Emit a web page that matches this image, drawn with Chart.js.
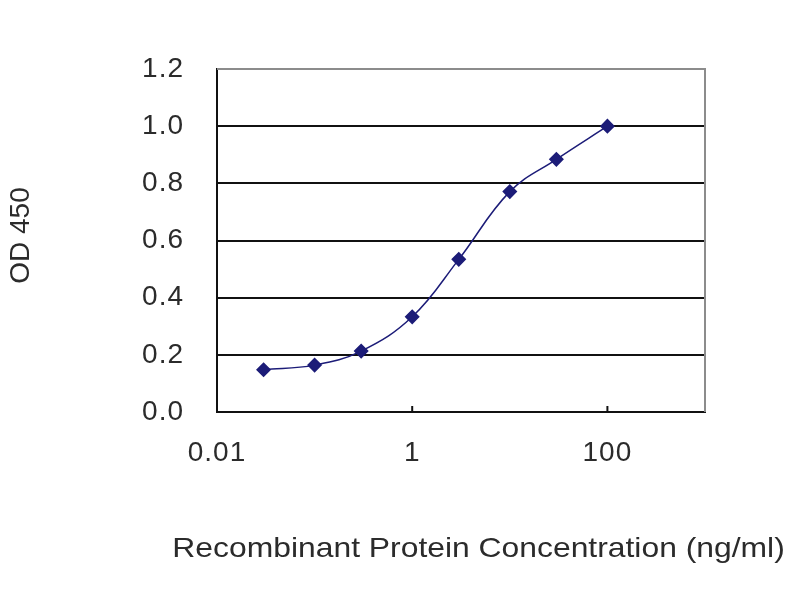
<!DOCTYPE html>
<html>
<head>
<meta charset="utf-8">
<script src="https://cdn.jsdelivr.net/npm/chart.js@4"></script>
<style>
  html, body { margin: 0; padding: 0; background: #ffffff; }
  #wrap { width: 800px; height: 600px; }
</style>
</head>
<body>
<div id="wrap"><canvas id="c" width="800" height="600"></canvas></div>
<script>
// ---- data ----
const concentrations = [0.03, 0.1, 0.3, 1, 3, 10, 30, 100];
const od450 = [0.148, 0.164, 0.213, 0.333, 0.534, 0.771, 0.884, 1.0];
const xTickValues = [0.01, 1, 100];
const xTickLabels = ['0.01', '1', '100'];
const yTickValues = [0, 0.2, 0.4, 0.6, 0.8, 1.0, 1.2];
const xTitle = 'Recombinant Protein Concentration (ng/ml)';
const yTitle = 'OD 450';

const points = concentrations.map((c, i) => ({ x: c, y: od450[i] }));
const textColor = '#2b2b2b';
const fontFamily = '"Liberation Sans", Arial, sans-serif';

const frame = {
  id: 'frame',
  beforeDraw(chart) {
    chart.ctx.letterSpacing = '1px';
  },
  beforeDatasetsDraw(chart) {
    const { ctx, chartArea: a, scales } = chart;
    ctx.letterSpacing = '0px';
    ctx.save();
    ctx.strokeStyle = '#8c8c8c';
    ctx.lineWidth = 2;
    ctx.beginPath();
    ctx.moveTo(a.left, a.top);
    ctx.lineTo(a.right, a.top);
    ctx.lineTo(a.right, a.bottom);
    ctx.stroke();
    // inner tick marks on x axis
    ctx.strokeStyle = '#111';
    ctx.lineWidth = 2;
    xTickValues.forEach(v => {
      const px = scales.x.getPixelForValue(v);
      ctx.beginPath();
      ctx.moveTo(px, a.bottom);
      ctx.lineTo(px, a.bottom - 6);
      ctx.stroke();
    });
    ctx.restore();
  },
  afterDraw(chart) {
    const { ctx, chartArea: a } = chart;
    ctx.save();
    ctx.fillStyle = textColor;
    ctx.font = '28px ' + fontFamily;
    ctx.letterSpacing = '0px';
    // x axis title, horizontally widened like the reference
    ctx.textAlign = 'center';
    ctx.textBaseline = 'alphabetic';
    const w = ctx.measureText(xTitle).width;
    const targetW = (a.right - a.left) * 1.255;
    const cx = a.left + (a.right - a.left) * 0.536;
    ctx.save();
    ctx.translate(cx, a.bottom + 145);
    ctx.scale(targetW / w, 1);
    ctx.fillText(xTitle, 0, 0);
    ctx.restore();
    // y axis title
    ctx.save();
    ctx.translate(21, (a.top + a.bottom) / 2 - 5);
    ctx.rotate(-Math.PI / 2);
    ctx.textBaseline = 'middle';
    ctx.fillText(yTitle, 0, 0);
    ctx.restore();
    ctx.restore();
  }
};

new Chart(document.getElementById('c'), {
  type: 'line',
  data: {
    datasets: [{
      data: points,
      borderColor: '#1c1c78',
      backgroundColor: '#1c1c78',
      borderWidth: 1.5,
      pointStyle: 'rectRot',
      pointRadius: 6.5,
      pointHoverRadius: 6.5,
      tension: 0.4,
      fill: false
    }]
  },
  options: {
    responsive: false,
    animation: false,
    events: [],
    layout: { padding: { left: 4, right: 95, top: 69, bottom: 30 } },
    plugins: { legend: { display: false }, tooltip: { enabled: false } },
    scales: {
      x: {
        type: 'logarithmic',
        min: 0.01,
        max: 1000,
        afterBuildTicks(scale) {
          scale.ticks = xTickValues.concat([1000]).map(v => ({ value: v }));
        },
        afterFit(scale) { scale.height = 158; },
        ticks: {
          autoSkip: false,
          maxRotation: 0,
          padding: 24,
          color: textColor,
          font: { family: fontFamily, size: 28 },
          callback(value) {
            const i = xTickValues.indexOf(value);
            return i >= 0 ? xTickLabels[i] : '';
          }
        },
        grid: { display: false, drawTicks: false },
        border: { display: true, color: '#111', width: 2 },
        title: { display: false }
      },
      y: {
        min: 0,
        max: 1.2,
        afterBuildTicks(scale) {
          scale.ticks = yTickValues.map(v => ({ value: v }));
        },
        afterFit(scale) { scale.width = 213; },
        ticks: {
          padding: 33,
          color: textColor,
          font: { family: fontFamily, size: 28 },
          callback(value) { return Number(value).toFixed(1); }
        },
        grid: {
          drawTicks: false,
          color: ctx => (ctx.tick && ctx.tick.value >= 1.2 ? '#8c8c8c' : '#111'),
          lineWidth: 2
        },
        border: { display: true, color: '#111', width: 2 },
        title: { display: false }
      }
    }
  },
  plugins: [frame]
});
</script>
</body>
</html>
